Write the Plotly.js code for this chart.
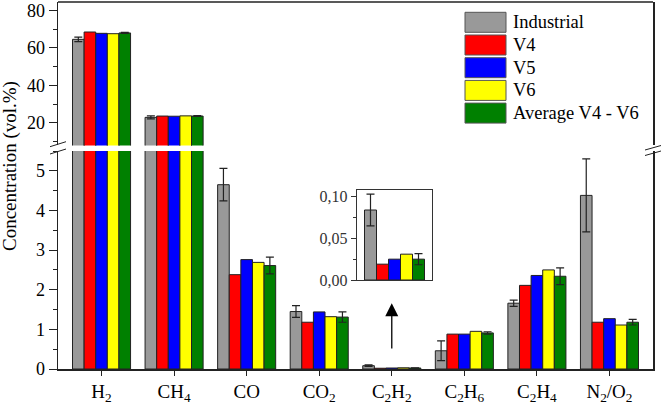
<!DOCTYPE html>
<html>
<head>
<meta charset="utf-8">
<script src="https://cdn.plot.ly/plotly-3.0.1.min.js"></script>
<style>html,body{margin:0;padding:0;background:#fff;}#chart{width:661px;height:404px;}</style>
</head>
<body>
<div id="chart"></div>
<script>
const categories = ['H<sub>2</sub>','CH<sub>4</sub>','CO','CO<sub>2</sub>','C<sub>2</sub>H<sub>2</sub>','C<sub>2</sub>H<sub>6</sub>','C<sub>2</sub>H<sub>4</sub>','N<sub>2</sub>/O<sub>2</sub>'];
const seriesNames = ['Industrial','V4','V5','V6','Average V4 - V6'];
const seriesColors = ['#999999','#ff0000','#0000ff','#ffff00','#008000'];
const industrial = [64.6, 23.0, 4.65, 1.45, 0.084, 0.46, 1.66, 4.38];
const industrialErr = [1.2, 0.8, 0.41, 0.15, 0.019, 0.25, 0.08, 0.92];
const v4 = [68.5, 23.7, 2.38, 1.18, 0.019, 0.88, 2.11, 1.18];
const v5 = [67.8, 23.6, 2.76, 1.44, 0.025, 0.88, 2.36, 1.27];
const v6 = [67.6, 23.8, 2.69, 1.32, 0.031, 0.95, 2.50, 1.11];
const avg = [68.0, 23.7, 2.61, 1.31, 0.025, 0.91, 2.34, 1.18];
const avgErr = [0.3, 0.2, 0.21, 0.13, 0.0067, 0.03, 0.21, 0.07];
const lowerTicks = [0,1,2,3,4,5];
const upperTicks = [20,40,60,80];
const insetTicks = [0, 0.05, 0.10];
const insetIndex = 4;

const seriesValues = [industrial, v4, v5, v6, avg];
const seriesErrs = [industrialErr, null, null, null, avgErr];

const W = 661, H = 404, ML = 58, MR = 8, MT = 2, MB = 35;
const PW = W - ML - MR, PH = H - MT - MB;
const px = x => (x - ML) / PW;
const py = y => (H - MB - y) / PH;
const FONT = 'Times New Roman';
const lineCol = '#222222';

const traces = [];
seriesNames.forEach((name, i) => {
  const base = {
    type: 'bar', name: name, x: categories, y: seriesValues[i],
    marker: {color: seriesColors[i], line: {color: lineCol, width: 1}},
    showlegend: false
  };
  if (seriesErrs[i]) base.error_y = {type: 'data', array: seriesErrs[i], visible: true, color: lineCol, thickness: 1.2, width: 4};
  traces.push(Object.assign({}, base, {xaxis: 'x', yaxis: 'y'}));
  traces.push(Object.assign({}, base, {xaxis: 'x', yaxis: 'y2'}));
  const inset = {
    type: 'bar', name: name, x: [categories[insetIndex]], y: [seriesValues[i][insetIndex]],
    marker: {color: seriesColors[i], line: {color: lineCol, width: 1}},
    showlegend: false, xaxis: 'x3', yaxis: 'y3'
  };
  if (seriesErrs[i]) inset.error_y = {type: 'data', array: [seriesErrs[i][insetIndex]], visible: true, color: lineCol, thickness: 1.2, width: 4};
  traces.push(inset);
});

const shapes = [
  {type: 'line', xref: 'paper', yref: 'paper', x0: 0, x1: 1, y0: 1, y1: 1, line: {color: lineCol, width: 1.5}},
  {type: 'line', xref: 'paper', yref: 'paper', x0: px(50), y0: py(146.7), x1: px(66), y1: py(141.7), line: {color: lineCol, width: 1}},
  {type: 'line', xref: 'paper', yref: 'paper', x0: px(50), y0: py(154), x1: px(66), y1: py(149), line: {color: lineCol, width: 1}},
  {type: 'line', xref: 'paper', yref: 'paper', x0: px(645), y0: py(150), x1: px(661), y1: py(145.5), line: {color: lineCol, width: 1}},
  {type: 'line', xref: 'paper', yref: 'paper', x0: px(645), y0: py(155.5), x1: px(661), y1: py(151), line: {color: lineCol, width: 1}}
];
const annotations = [
  {text: 'Concentration (vol.%)', xref: 'paper', yref: 'paper', x: px(10), y: py(166), textangle: -90,
   showarrow: false, font: {family: FONT, size: 19, color: '#000'}, xanchor: 'center', yanchor: 'middle'},
  {x: insetIndex, y: 1.66, ax: insetIndex, ay: 0.48, xref: 'x', yref: 'y', axref: 'x', ayref: 'y',
   showarrow: true, arrowhead: 2, arrowsize: 2, arrowwidth: 1.3, arrowcolor: '#000', text: ''}
];
// manual legend (wide swatches)
seriesNames.forEach((name, i) => {
  const cy = 22.3 + i * 22.7;
  shapes.push({type: 'rect', xref: 'paper', yref: 'paper', x0: px(465), x1: px(506), y0: py(cy + 10), y1: py(cy - 10),
    fillcolor: seriesColors[i], line: {color: '#555555', width: 1}});
  annotations.push({text: name, xref: 'paper', yref: 'paper', x: px(511), y: py(cy), xanchor: 'left', yanchor: 'middle',
    showarrow: false, font: {family: FONT, size: 18.5, color: '#000'}});
});

const tickFont = {family: FONT, size: 18, color: '#000'};
const layout = {
  width: W, height: H,
  margin: {l: ML, r: MR, t: MT, b: MB, pad: 0},
  paper_bgcolor: '#fff', plot_bgcolor: 'rgba(0,0,0,0)',
  separators: ',.',
  barmode: 'group', bargap: 0.2, bargroupgap: 0,
  showlegend: false,
  font: {family: FONT, color: '#000'},
  xaxis: {
    type: 'category', range: [-0.6, 7.6], anchor: 'y', domain: [0, 1],
    showline: true, linecolor: lineCol, linewidth: 1.5, mirror: false,
    ticks: 'outside', ticklen: 5, tickcolor: lineCol, tickwidth: 1,
    tickfont: {family: FONT, size: 19, color: '#000'}, showgrid: false, zeroline: false, fixedrange: true
  },
  yaxis: {
    domain: [0, 0.594], range: [0, 5.5], anchor: 'x',
    tickmode: 'array', tickvals: lowerTicks, ticks: 'outside', ticklen: 8, tickwidth: 1, tickcolor: lineCol,
    minor: {dtick: 0.5, tick0: 0, ticks: 'outside', ticklen: 4, tickcolor: lineCol, showgrid: false},
    showline: true, linecolor: lineCol, linewidth: 1.5, mirror: true,
    showgrid: false, zeroline: false, tickfont: tickFont
  },
  yaxis2: {
    domain: [0.609, 1], range: [8, 84.5], anchor: 'x',
    tickmode: 'array', tickvals: upperTicks, ticks: 'outside', ticklen: 8, tickwidth: 1, tickcolor: lineCol,
    minor: {dtick: 10, tick0: 0, ticks: 'outside', ticklen: 4, tickcolor: lineCol, showgrid: false},
    showline: true, linecolor: lineCol, linewidth: 1.5, mirror: true,
    showgrid: false, zeroline: false, tickfont: tickFont
  },
  xaxis3: {
    type: 'category', domain: [px(357), px(432)], anchor: 'y3', range: [-0.5, 0.5],
    showline: true, linecolor: '#333', linewidth: 1.2, mirror: true, ticks: '', showticklabels: false,
    showgrid: false, zeroline: false
  },
  yaxis3: {
    domain: [py(280), py(190)], anchor: 'x3', range: [0, 0.108],
    tickmode: 'array', tickvals: insetTicks, tickformat: '.2f', ticks: 'outside', ticklen: 5, tickcolor: '#333',
    minor: {dtick: 0.025, tick0: 0, ticks: 'outside', ticklen: 3, tickcolor: '#333', showgrid: false},
    showline: true, linecolor: '#333', linewidth: 1.2, mirror: true,
    showgrid: false, zeroline: false, tickfont: {family: FONT, size: 16, color: '#333'}
  },
  shapes: shapes,
  annotations: annotations
};
Plotly.newPlot('chart', traces, layout, {displayModeBar: false, staticPlot: true});
</script>
</body>
</html>
